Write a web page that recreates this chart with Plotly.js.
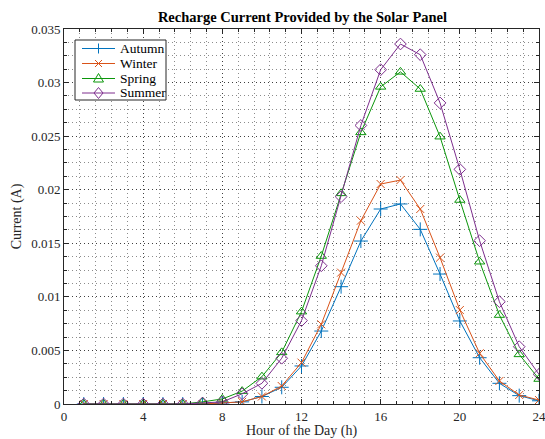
<!DOCTYPE html>
<html>
<head>
<meta charset="utf-8">
<script src="https://cdn.plot.ly/plotly-3.0.1.min.js"></script>
<style>html,body{margin:0;padding:0;background:#fff;}#chart{width:545px;height:439px;}</style>
</head>
<body>
<div id="chart"></div>
<script>
const hours = [1,2,3,4,5,6,7,8,9,10,11,12,13,14,15,16,17,18,19,20,21,22,23,24];
const autumn = [0,0,0,0,0,0,0,0.0001,0.0002,0.0007,0.00156,0.00355,0.00681,0.01095,0.01521,0.0182,0.01867,0.0163,0.01213,0.00775,0.00432,0.00193,0.00078,0.0003];
const winter = [0,0,0,0,0,0,0,0.0001,0.0002,0.0007,0.00168,0.00386,0.00744,0.01226,0.01711,0.02053,0.0209,0.0182,0.01366,0.00877,0.00473,0.00215,0.00084,0.00037];
const spring = [0,0,0,0,0,0,0.0002,0.00047,0.0012,0.00255,0.00482,0.00862,0.01381,0.01966,0.02535,0.0296,0.031,0.0294,0.02495,0.01904,0.01328,0.0083,0.00463,0.00233];
const summer = [0,0,0,0,0,0,0.0001,0.0002,0.00095,0.00193,0.00427,0.00778,0.0129,0.01935,0.026,0.0312,0.0336,0.0326,0.0281,0.0219,0.01524,0.00955,0.00535,0.00277];
const seriesNames = ['Autumn','Winter','Spring','Summer'];
const xTicks = [0,4,8,12,16,20,24];
const yTicks = [0,0.005,0.01,0.015,0.02,0.025,0.03,0.035];
const yTickText = ['0','0.005','0.01','0.015','0.02','0.025','0.03','0.035'];

const colors = ['#0072BD','#D95319','#0b960b','#7E2F8E'];
const symbols = ['cross-thin-open','x-thin-open','triangle-up-open','diamond-open'];
const sizes = [10,8,9,9];
const seriesData = [autumn, winter, spring, summer];
const data = seriesData.map((y,i)=>({
  x: hours, y: y, name: seriesNames[i], type:'scatter', mode:'lines+markers',
  line:{color:colors[i], width:1}, showlegend:false,
  marker:{symbol:symbols[i], size:sizes[i], color:colors[i], line:{color:colors[i], width:1}}
}));

const ff = '"Liberation Serif","Times New Roman",serif';

// Compact MATLAB-style legend built from shapes + annotations (pixel layout -> paper coords)
const PL = {left:64, right:539, top:29, bottom:404};
const px = v => (v - PL.left) / (PL.right - PL.left);
const py = v => (PL.bottom - v) / (PL.bottom - PL.top);
const lg = {left:75, right:166, top:40, bottom:100, lineX0:82, lineX1:115, mx:98.5, textX:117.5, rowY:[48.5,63.5,78.5,93]};
const shapes = [{type:'rect', xref:'paper', yref:'paper', x0:px(lg.left), x1:px(lg.right), y0:py(lg.bottom), y1:py(lg.top),
  fillcolor:'#fff', line:{color:'#262626', width:1}, layer:'above'}];
const annotations = [];
function seg(x0,y0,x1,y1,c){ shapes.push({type:'line', xref:'paper', yref:'paper', x0:px(x0), y0:py(y0), x1:px(x1), y1:py(y1), line:{color:c, width:1}, layer:'above'}); }
function poly(pts,c){ const d = 'M' + pts.map(p=>px(p[0])+','+py(p[1])).join('L') + 'Z';
  shapes.push({type:'path', xref:'paper', yref:'paper', path:d, line:{color:c, width:1}, fillcolor:'rgba(0,0,0,0)', layer:'above'}); }
seriesNames.forEach((n,i)=>{
  const yy = lg.rowY[i], c = colors[i], m = lg.mx;
  seg(lg.lineX0, yy, lg.lineX1, yy, c);
  if (i===0){ seg(m-5,yy,m+5,yy,c); seg(m,yy-5,m,yy+5,c); }
  else if (i===1){ seg(m-3.5,yy-3.5,m+3.5,yy+3.5,c); seg(m-3.5,yy+3.5,m+3.5,yy-3.5,c); }
  else if (i===2){ poly([[m,yy-5],[m-5,yy+3.5],[m+5,yy+3.5]],c); }
  else { poly([[m,yy-5.5],[m+4.5,yy],[m,yy+5.5],[m-4.5,yy]],c); }
  annotations.push({xref:'paper', yref:'paper', x:px(lg.textX), y:py(yy), xanchor:'left', yanchor:'middle', showarrow:false,
    text:n, font:{family:ff, size:13.5, color:'#000'}});
});

const font = {family:ff, color:'#262626', size:13};
const gridDash = '1px,3px';
const axisCommon = {
  showline:true, linecolor:'#262626', linewidth:1, mirror:'ticks',
  ticks:'inside', ticklen:5, tickcolor:'#262626', tickwidth:1,
  showgrid:true, gridcolor:'rgba(0,0,0,0.55)', griddash:gridDash, gridwidth:1,
  zeroline:false, ticklabeloverflow:'allow',
  tickfont:{family:ff, size:13, color:'#262626'}
};
const layout = {
  width:545, height:439,
  margin:{l:PL.left, r:545-PL.right, t:PL.top, b:439-PL.bottom},
  paper_bgcolor:'#fff', plot_bgcolor:'#fff',
  font: font,
  title:{text:'<b>Recharge Current Provided by the Solar Panel</b>', x:0.555, xanchor:'center', y:0.962, yanchor:'middle', font:{family:ff, size:14.5, color:'#000'}},
  xaxis: Object.assign({}, axisCommon, {
    range:[0,24], tickvals:xTicks,
    title:{text:'Hour of the Day (h)', standoff:2, font:{family:ff, size:14, color:'#262626'}},
    minor:{dtick:0.8, tick0:0, ticks:'inside', ticklen:3, tickcolor:'#262626', showgrid:true, gridcolor:'rgba(0,0,0,0.45)', griddash:gridDash, gridwidth:1}
  }),
  yaxis: Object.assign({}, axisCommon, {
    range:[0,0.035], tickvals:yTicks, ticktext:yTickText,
    title:{text:'Current (A)', standoff:6, font:{family:ff, size:14, color:'#262626'}},
    minor:{dtick:0.00125, tick0:0, ticks:'inside', ticklen:3, tickcolor:'#262626', showgrid:true, gridcolor:'rgba(0,0,0,0.45)', griddash:gridDash, gridwidth:1}
  }),
  shapes: shapes,
  annotations: annotations,
  showlegend:false
};
Plotly.newPlot('chart', data, layout, {displayModeBar:false, staticPlot:true});
</script>
</body>
</html>
